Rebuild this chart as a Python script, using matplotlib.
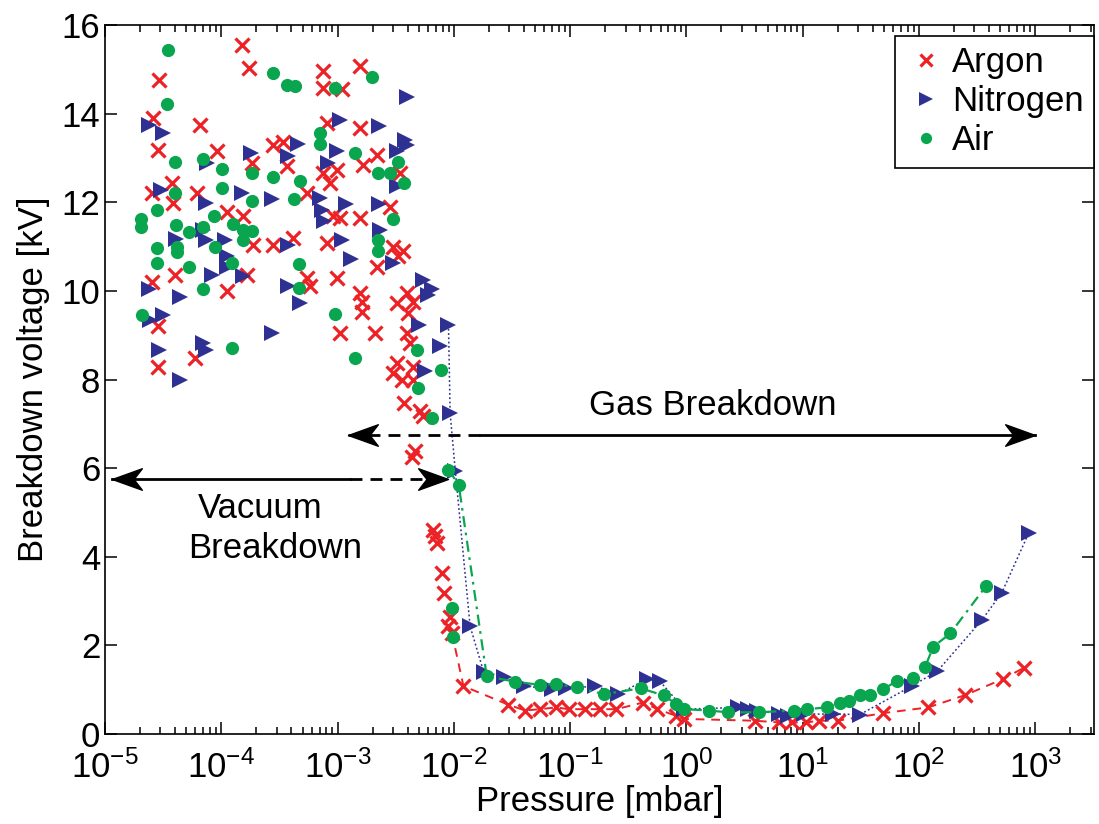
import numpy as np
import matplotlib
matplotlib.use("Agg")
import matplotlib.pyplot as plt
from matplotlib.path import Path
from matplotlib.ticker import LogLocator, FixedLocator

plt.rcParams['font.family'] = ['Liberation Sans', 'DejaVu Sans']
plt.rcParams['mathtext.fontset'] = 'custom'
plt.rcParams['mathtext.rm'] = 'Liberation Sans'
plt.rcParams['mathtext.it'] = 'Liberation Sans:italic'
plt.rcParams['mathtext.bf'] = 'Liberation Sans:bold'

# ---------------- data ----------------
series_names = ["Argon", "Nitrogen", "Air"]

# Argon: vacuum-breakdown scatter (markers only)
argon_vac_p = [1.50e-4, 1.73e-4, 2.93e-5, 7.45e-4, 1.56e-3, 7.55e-4, 1.09e-3, 2.61e-5, 6.56e-5, 8.07e-4,
               1.56e-3, 2.88e-5, 9.14e-5, 2.81e-4, 3.42e-4, 2.17e-3, 1.67e-3, 1.83e-4, 3.66e-4, 7.55e-4,
               9.84e-4, 8.61e-4, 3.45e-3, 3.74e-5, 2.52e-5, 6.14e-5, 3.87e-5, 5.43e-4, 1.11e-4, 1.55e-4,
               9.20e-4, 1.05e-3, 1.56e-3, 2.83e-3, 1.89e-4, 2.81e-4, 4.17e-4, 8.07e-4, 3.02e-3, 3.68e-3,
               3.33e-3, 2.17e-3, 4.00e-5, 2.52e-5, 1.66e-4, 5.43e-4, 5.79e-4, 9.84e-4, 1.11e-4, 1.56e-3,
               1.61e-3, 1.61e-3, 3.94e-3, 3.23e-3, 4.49e-3, 4.06e-3, 2.88e-5, 1.05e-3, 2.10e-3, 3.94e-3,
               4.21e-3, 5.94e-5, 2.88e-5, 3.24e-3, 3.02e-3, 4.47e-3, 3.55e-3, 4.47e-3, 3.69e-3, 5.13e-3,
               5.48e-3, 4.65e-3, 4.37e-3, 6.68e-3, 6.90e-3, 7.14e-3, 7.87e-3, 8.15e-3, 9.29e-3, 8.99e-3]
argon_vac_v = [15.55, 15.03, 14.76, 14.97, 15.07, 14.58, 14.55, 13.90, 13.75, 13.79,
               13.67, 13.18, 13.15, 13.30, 13.37, 13.07, 12.85, 12.88, 12.81, 12.66,
               12.73, 12.43, 12.66, 12.43, 12.21, 12.21, 11.98, 12.21, 11.79, 11.68,
               11.68, 11.64, 11.64, 11.90, 11.04, 11.04, 11.19, 11.08, 11.00, 10.89,
               10.78, 10.55, 10.36, 10.21, 10.36, 10.29, 10.10, 10.29, 9.99, 9.95,
               9.76, 9.53, 9.95, 9.72, 9.76, 9.50, 9.20, 9.05, 9.05, 9.05,
               8.82, 8.48, 8.29, 8.37, 8.14, 8.29, 7.99, 7.99, 7.47, 7.28,
               7.17, 6.38, 6.25, 4.61, 4.46, 4.31, 3.63, 3.18, 2.65, 2.43]
# Argon: gas-breakdown curve (markers + dashed line)
argon_gas_p = [9.62e-3, 1.21e-2, 2.95e-2, 4.11e-2, 5.47e-2, 7.59e-2, 9.70e-2, 0.135, 0.179, 0.249,
               0.424, 0.564, 0.815, 0.96, 3.86, 6.31, 8.05, 10.7, 13.8, 20.0,
               48.9, 120.0, 251.0, 525.0, 794.0]
argon_gas_v = [2.28, 1.08, 0.66, 0.53, 0.56, 0.60, 0.56, 0.56, 0.56, 0.56,
               0.71, 0.56, 0.41, 0.34, 0.30, 0.26, 0.26, 0.26, 0.30, 0.30,
               0.47, 0.60, 0.88, 1.24, 1.49]

# Nitrogen: vacuum-breakdown scatter
nitrogen_vac_p = [2.40e-5, 3.18e-5, 3.94e-3, 1.05e-3, 2.29e-3, 3.81e-3, 3.94e-3, 3.23e-3, 1.79e-4, 4.60e-4,
                  3.78e-4, 9.98e-4, 8.22e-4, 7.59e-5, 3.23e-3, 3.01e-5, 1.50e-4, 2.72e-4, 7.08e-4, 7.31e-4,
                  7.66e-4, 1.18e-3, 2.26e-3, 7.40e-5, 6.92e-5, 7.40e-5, 2.32e-3, 4.08e-5, 1.08e-4, 1.11e-4,
                  1.11e-4, 3.78e-4, 1.09e-3, 1.30e-3, 3.02e-3, 8.28e-5, 1.55e-4, 2.40e-5, 4.42e-5, 3.78e-4,
                  4.75e-4, 5.41e-3, 6.04e-3, 6.46e-3, 2.44e-5, 3.13e-5, 5.06e-3, 2.72e-4, 7.62e-3, 2.93e-5,
                  7.02e-5, 7.40e-5, 4.42e-5, 5.66e-3]
nitrogen_vac_v = [13.75, 13.56, 14.37, 13.86, 13.73, 13.41, 13.30, 13.15, 13.11, 13.32,
                  13.05, 13.15, 12.88, 12.88, 12.36, 12.28, 12.22, 12.07, 12.09, 11.83,
                  11.57, 11.96, 11.96, 11.98, 11.38, 11.15, 11.38, 11.17, 11.15, 10.78,
                  10.55, 11.04, 11.14, 10.72, 10.63, 10.36, 10.34, 10.04, 9.87, 10.10,
                  9.72, 10.25, 9.91, 10.05, 9.35, 9.46, 9.23, 9.05, 8.75, 8.67,
                  8.82, 8.67, 7.99, 8.20]
# Nitrogen: gas-breakdown curve (markers + dotted line)
nitrogen_gas_p = [8.99e-3, 9.29e-3, 1.03e-2, 1.38e-2, 1.80e-2, 2.70e-2, 4.00e-2, 7.00e-2, 9.30e-2, 0.165,
                  0.259, 0.459, 0.587, 0.96, 2.78, 3.41, 4.02, 6.31, 7.41, 10.3,
                  18.3, 31.1, 86.5, 144.0, 347.0, 516.0, 877.0]
nitrogen_gas_v = [9.24, 7.24, 5.93, 2.43, 1.41, 1.28, 1.08, 1.02, 1.03, 1.08,
                  0.90, 1.24, 1.20, 0.56, 0.60, 0.56, 0.53, 0.45, 0.41, 0.45,
                  0.45, 0.44, 1.08, 1.42, 2.57, 3.19, 4.53]

# Air: vacuum-breakdown scatter
air_vac_p = [3.51e-5, 3.39e-5, 2.81e-4, 3.66e-4, 4.31e-4, 9.53e-4, 1.97e-3, 7.08e-4, 7.08e-4, 1.41e-3,
             4.00e-5, 6.92e-5, 1.01e-4, 1.83e-4, 2.81e-4, 4.75e-4, 2.24e-3, 2.82e-3, 3.33e-3, 3.73e-3,
             4.00e-5, 1.01e-4, 1.83e-4, 4.26e-4, 2.03e-5, 2.03e-5, 2.79e-5, 4.08e-5, 5.31e-5, 6.92e-5,
             8.67e-5, 1.25e-4, 1.55e-4, 1.83e-4, 1.55e-4, 3.02e-3, 2.24e-3, 2.24e-3, 2.79e-5, 4.14e-5,
             4.14e-5, 8.83e-5, 2.79e-5, 5.31e-5, 1.23e-4, 4.70e-4, 6.92e-5, 4.70e-4, 2.07e-5, 9.53e-4,
             1.23e-4, 1.41e-3, 4.80e-3, 7.73e-3, 4.95e-3, 6.46e-3, 9.59e-3, 9.93e-3]
air_vac_v = [15.43, 14.22, 14.91, 14.65, 14.63, 14.58, 14.82, 13.56, 13.32, 13.12,
             12.90, 12.97, 12.75, 12.66, 12.57, 12.47, 12.66, 12.66, 12.90, 12.43,
             12.22, 12.32, 12.03, 12.07, 11.62, 11.45, 11.83, 11.49, 11.33, 11.44,
             11.68, 11.51, 11.38, 11.34, 11.15, 11.62, 11.15, 10.89, 10.96, 11.00,
             10.87, 11.00, 10.64, 10.55, 10.63, 10.60, 10.04, 10.06, 9.46, 9.48,
             8.71, 8.48, 8.67, 8.22, 7.80, 7.13, 2.84, 2.20]
# Air: gas-breakdown curve (markers + dash-dot line)
air_gas_p = [8.99e-3, 1.10e-2, 1.92e-2, 3.37e-2, 5.47e-2, 7.59e-2, 0.114, 0.195, 0.406, 0.637,
             0.815, 0.96, 1.57, 2.26, 4.19, 8.39, 10.8, 16.1, 21.0, 24.8,
             31.3, 38.0, 49.5, 64.6, 89.7, 113.0, 133.0, 186.0, 378.0]
air_gas_v = [5.96, 5.63, 1.30, 1.18, 1.11, 1.13, 1.05, 0.90, 1.03, 0.87,
             0.68, 0.56, 0.53, 0.49, 0.49, 0.53, 0.56, 0.60, 0.71, 0.75,
             0.88, 0.88, 1.01, 1.20, 1.26, 1.52, 1.97, 2.27, 3.34]

# annotation ranges (pressure in mbar, voltage in kV)
gas_arrow_p = [1.24e-3, 1.68e-2, 1.0e3]     # left tip, dash->solid change, right tip
gas_arrow_v = 6.75
vac_arrow_p = [1.14e-5, 1.29e-3, 8.97e-3]   # left tip, solid->dash change, right tip
vac_arrow_v = 5.76

x_tick_values = [1e-5, 1e-4, 1e-3, 1e-2, 1e-1, 1e0, 1e1, 1e2, 1e3]
y_tick_values = [0, 2, 4, 6, 8, 10, 12, 14, 16]

# ---------------- style ----------------
c_red = '#ec2227'
c_blue = '#2e3192'
c_green = '#0aa64f'
FS = 25

fig = plt.figure(figsize=(10.99, 8.24), dpi=100)
ax = fig.add_axes([105 / 1099, 1 - 734 / 824, (1094 - 105) / 1099, (734 - 25) / 824])

xkw = dict(marker='x', color=c_red, markersize=10.5, markeredgewidth=2.3)
nkw = dict(marker='>', color=c_blue, markersize=11.5, markeredgewidth=0)
akw = dict(marker='o', color=c_green, markersize=9.5, markeredgewidth=0)

h_ar, = ax.plot(argon_vac_p, argon_vac_v, linestyle='none', **xkw)
ax.plot(argon_gas_p, argon_gas_v, linestyle=(0, (4.5, 3.5)), linewidth=1.4, **xkw)
h_n2, = ax.plot(nitrogen_vac_p, nitrogen_vac_v, linestyle='none', **nkw)
ax.plot(nitrogen_gas_p, nitrogen_gas_v, linestyle=(0, (1.2, 1.6)), linewidth=1.1, **nkw)
h_air, = ax.plot(air_vac_p, air_vac_v, linestyle='none', **akw)
ax.plot(air_gas_p, air_gas_v, linestyle=(0, (5, 2.5, 1.2, 2.5)), linewidth=1.6, **akw)

ax.set_xscale('log')
ax.set_xlim(1e-5, 3.2e3)
ax.set_ylim(0, 16)
ax.xaxis.set_major_locator(FixedLocator(x_tick_values))
ax.xaxis.set_minor_locator(LogLocator(base=10, subs=np.arange(2, 10), numticks=50))
ax.yaxis.set_major_locator(FixedLocator(y_tick_values))

ax.tick_params(which='both', direction='in', top=True, right=True, width=1.1, colors='black')
ax.tick_params(which='major', length=8.5)
ax.tick_params(which='minor', length=5)
ax.tick_params(axis='x', which='major', labelsize=FS, pad=12)
ax.tick_params(axis='y', which='major', labelsize=FS, pad=3.5)
for s in ax.spines.values():
    s.set_linewidth(1.2)

ax.set_xlabel('Pressure [mbar]', fontsize=FS)
ax.set_ylabel('Breakdown voltage [kV]', fontsize=FS)
ax.xaxis.set_label_coords(0.5, (734 - 785) / 709)
ax.yaxis.set_label_coords((50 - 105) / 989, 0.5)

# arrowhead markers (tip at origin)
head_r = Path([(0, 0), (-1, 0.36), (-0.72, 0), (-1, -0.36), (0, 0)],
              [Path.MOVETO, Path.LINETO, Path.LINETO, Path.LINETO, Path.CLOSEPOLY])
head_l = Path([(0, 0), (1, 0.36), (0.72, 0), (1, -0.36), (0, 0)],
              [Path.MOVETO, Path.LINETO, Path.LINETO, Path.LINETO, Path.CLOSEPOLY])
alw = 2.0
adash = (0, (4.3, 2.9))
# Gas breakdown arrow
ax.plot(gas_arrow_p[:2], [gas_arrow_v] * 2, color='black', lw=alw, linestyle=adash, zorder=5)
ax.plot(gas_arrow_p[1:], [gas_arrow_v] * 2, color='black', lw=alw, zorder=5)
ax.plot([gas_arrow_p[0]], [gas_arrow_v], marker=head_l, markersize=43, color='black', zorder=6)
ax.plot([gas_arrow_p[2]], [gas_arrow_v], marker=head_r, markersize=43, color='black', zorder=6)
# Vacuum breakdown arrow
ax.plot(vac_arrow_p[:2], [vac_arrow_v] * 2, color='black', lw=alw, zorder=5)
ax.plot(vac_arrow_p[1:], [vac_arrow_v] * 2, color='black', lw=alw, linestyle=adash, zorder=5)
ax.plot([vac_arrow_p[0]], [vac_arrow_v], marker=head_l, markersize=43, color='black', zorder=6)
ax.plot([vac_arrow_p[2]], [vac_arrow_v], marker=head_r, markersize=43, color='black', zorder=6)

ax.text(1.70, 7.2, 'Gas Breakdown', fontsize=FS, ha='center', va='baseline')
ax.text(2.15e-4, 4.88, 'Vacuum', fontsize=FS, ha='center', va='baseline')
ax.text(2.9e-4, 3.97, 'Breakdown', fontsize=FS, ha='center', va='baseline')

leg = ax.legend([h_ar, h_n2, h_air], series_names, loc='upper right',
                bbox_to_anchor=(1.0, (734 - 36) / 709), borderaxespad=0,
                fontsize=FS, fancybox=False, framealpha=1, edgecolor='black',
                borderpad=0.3, handlelength=1.2, handletextpad=0.15, labelspacing=0.17,
                markerscale=0.85)
leg.get_frame().set_linewidth(1.2)

fig.savefig('out.png', dpi=100)
